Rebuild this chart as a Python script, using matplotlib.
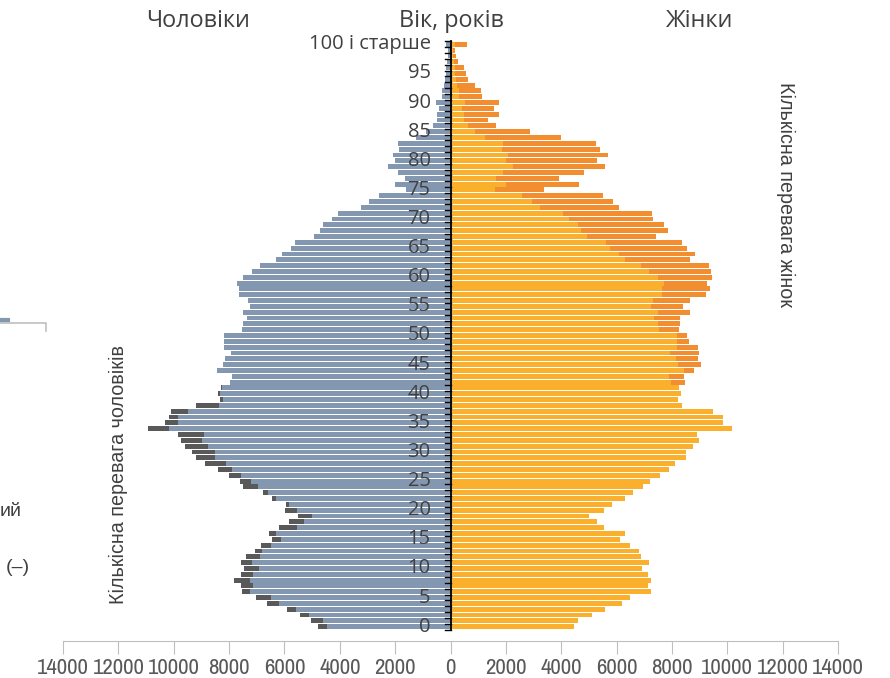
import numpy as np
import matplotlib
matplotlib.use("Agg")
import matplotlib.pyplot as plt
from matplotlib.lines import Line2D
from matplotlib import font_manager

# ages 0..100 (100 = "100 і старше")
ages = list(range(0, 101))

men = [4780, 5050, 5450, 5920, 6620, 7010, 7550, 7560, 7820, 7580,
       7460, 7580, 7390, 7080, 6860, 6450, 6540, 6210, 5820, 5500,
       5970, 5950, 6450, 6790, 7500, 7600, 7990, 8400, 8860, 9190,
       9340, 9600, 9750, 9860, 10930, 10310, 10160, 10100, 9190, 8340,
       8400, 8300, 7970, 7890, 8450, 8220, 8150, 7930, 8170, 8170,
       8200, 7530, 7500, 7360, 7510, 7230, 7330, 7640, 7630, 7710,
       7500, 7180, 6880, 6300, 6100, 5750, 5630, 4940, 4710, 4620,
       4280, 4060, 3220, 2950, 2600, 1600, 2000, 1660, 1880, 2250,
       1990, 2060, 1870, 1890, 1250, 880, 620, 480, 470, 420,
       540, 300, 300, 250, 200, 180, 150, 120, 100, 100,
       150]

women = [4460, 4600, 5130, 5590, 6180, 6470, 7230, 7150, 7230, 7150,
         6930, 7170, 6890, 6800, 6480, 6120, 6290, 5560, 5300, 5000,
         5560, 5850, 6290, 6590, 6970, 7220, 7580, 7880, 8120, 8500,
         8510, 8750, 8990, 8920, 10170, 9830, 9860, 9480, 8380, 8230,
         8340, 8250, 8480, 8420, 8790, 9050, 8930, 8980, 8950, 8600,
         8560, 8270, 8280, 8300, 8640, 8390, 8640, 9230, 9380, 9260,
         9450, 9410, 9340, 8640, 8850, 8560, 8360, 7410, 7870, 7710,
         7330, 7290, 6070, 5870, 5510, 3360, 4650, 3920, 4840, 5590,
         5290, 5700, 5410, 5240, 4000, 2860, 1630, 1340, 1770, 1555,
         1770, 1150, 1100, 880, 615, 570, 470, 265, 210, 170,
         580]

age_ticks = [0, 5, 10, 15, 20, 25, 30, 35, 40, 45, 50, 55, 60, 65, 70, 75, 80, 85, 90, 95, 100]
age_labels = [str(a) for a in age_ticks[:-1]] + ["100 і старше"]
x_ticks = list(range(-14000, 14001, 2000))

c_men = "#8497B0"
c_men_extra = "#595959"
c_women = "#FBB02D"
c_women_extra = "#F28E2F"
txt = "#404040"

# look for a narrow font for the value axis (like Calibri in the original)
narrow = None
for f in font_manager.fontManager.ttflist:
    n = f.name.lower()
    if ("narrow" in n or "condensed" in n) and f.style == "normal" and f.weight in (400, "normal", "regular"):
        narrow = f.fname
        break
if narrow:
    tick_font = font_manager.FontProperties(fname=narrow, size=16.5)
else:
    tick_font = font_manager.FontProperties(family="Liberation Sans", size=12.5)

men = np.array(men)
women = np.array(women)
common = np.minimum(men, women)

fig = plt.figure(figsize=(8.9, 6.78), dpi=100)
ax = fig.add_axes([63 / 890, 1 - 641 / 678, 775 / 890, (641 - 38.5) / 678])

h = 0.84
ax.barh(ages, -common, height=h, color=c_men, linewidth=0)
ax.barh(ages, -(men - common), left=-common, height=h, color=c_men_extra, linewidth=0)
ax.barh(ages, common, height=h, color=c_women, linewidth=0)
ax.barh(ages, women - common, left=common, height=h, color=c_women_extra, linewidth=0)

# central age axis with small ticks between categories
ax.plot([0, 0], [-0.5, 100.5], color="black", lw=1.3, zorder=5)
for k in range(-1, 101):
    ax.plot([-210, 0], [k + 0.5, k + 0.5], color="black", lw=1.0, zorder=5)

for a, lab in zip(age_ticks, age_labels):
    ax.text(-720, a, lab, ha="right", va="center", fontsize=14.5,
            family="Open Sans", color=txt, zorder=6)

ax.set_xlim(-14000, 14000)
ax.set_ylim(-2.46, 101)
ax.set_yticks([])
for s in ["left", "right", "top"]:
    ax.spines[s].set_visible(False)
ax.spines["bottom"].set_color("#BFBFBF")
ax.set_xticks(x_ticks)
ax.set_xticklabels([str(abs(v)) for v in x_ticks], fontproperties=tick_font, color="#595959")
ax.tick_params(axis="x", direction="out", length=9, color="#BFBFBF", pad=3)

# titles
fig.text(198 / 890, 1 - 21 / 678, "Чоловіки", ha="center", va="center",
         fontsize=16.8, family="Open Sans", color=txt)
fig.text(451 / 890, 1 - 21 / 678, "Вік, років", ha="center", va="center",
         fontsize=16.8, family="Open Sans", color=txt)
fig.text(700 / 890, 1 - 21 / 678, "Жінки", ha="center", va="center",
         fontsize=16.8, family="Open Sans", color=txt)

fig.text(118 / 890, 1 - 475 / 678, "Кількісна перевага чоловіків", rotation=90,
         ha="center", va="center", fontsize=14.2, family="Liberation Sans", color=txt)
fig.text(786 / 890, 1 - 195 / 678, "Кількісна перевага жінок", rotation=-90,
         ha="center", va="center", fontsize=14.2, family="Liberation Sans", color=txt)

# cut-off legend remnants at the left edge
fig.text(0 / 890, 1 - 511 / 678, "ий", ha="left", va="center",
         fontsize=14, family="Liberation Sans", color=txt)
fig.text(6 / 890, 1 - 567 / 678, "(–)", ha="left", va="center",
         fontsize=14, family="Liberation Sans", color=txt)
fig.add_artist(Line2D([0, 46 / 890, 46 / 890], [1 - 323 / 678, 1 - 323 / 678, 1 - 331 / 678],
                      color="#BFBFBF", lw=1.2))
fig.add_artist(Line2D([0, 8 / 890], [1 - 320 / 678, 1 - 320 / 678], color=c_men, lw=3))

fig.savefig("out.png", dpi=100)
